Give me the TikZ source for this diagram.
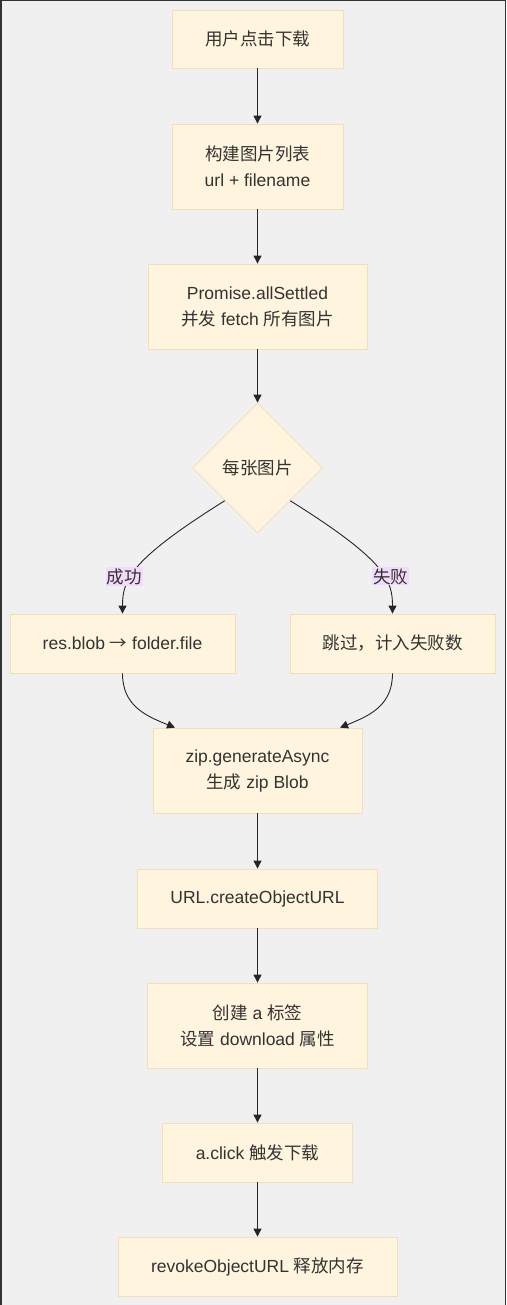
\documentclass[tikz,border=0pt]{standalone}
\usepackage{fontspec}
\setmainfont{Liberation Sans}
\newfontfamily\cjk{Noto Sans CJK SC}
\usetikzlibrary{shapes.geometric,arrows.meta,calc}

\definecolor{bgcol}{HTML}{F0F0F0}
\definecolor{boxfill}{HTML}{FFF4DD}
\definecolor{boxline}{HTML}{F3DFB5}
\definecolor{txtcol}{HTML}{333333}
\definecolor{lblfill}{HTML}{F1DAFA}

\begin{document}
\begin{tikzpicture}[x=1pt, y=-1pt, >={Triangle[length=8pt,width=8pt]},
    box/.style={draw=boxline, fill=boxfill, line width=0.8pt, text=txtcol,
        align=center, inner sep=0pt, font=\fontsize{17.5}{26}\selectfont},
    choice/.style={box, diamond, aspect=1, minimum width=130pt, minimum height=130pt},
    lbl/.style={fill=lblfill, text=txtcol, inner sep=1pt,
        font=\fontsize{17.5}{20}\selectfont\cjk},
    arr/.style={->, draw=black!85, line width=0.9pt}]
    \useasboundingbox (0,0) rectangle (506,1305);
    \fill[bgcol] (0,0) rectangle (506,1305);
    \draw[line width=1.5pt, black!80] (0.75,1305) -- (0.75,0.75) -- (505.25,0.75) -- (505.25,1305);

    \node[box, minimum width=171pt, minimum height=58pt] (click) at (257.5,39) {\cjk 用户点击下载};
    \node[box, minimum width=171pt, minimum height=85pt] (list) at (257.5,166.5) {{\cjk 构建图片列表}\\url + filename};
    \node[box, minimum width=219pt, minimum height=85pt] (fetch) at (257.5,306.5) {Promise.allSettled\\{\cjk 并发} fetch {\cjk 所有图片}};
    \node[choice] (dia) at (257.5,468) {\cjk 每张图片};
    \node[box, minimum width=225pt, minimum height=59pt] (ok) at (122.5,643.5) {res.blob {\cjk →} folder.file};
    \node[box, minimum width=205pt, minimum height=59pt] (skip) at (392.5,643.5) {\cjk 跳过，计入失败数};
    \node[box, minimum width=209pt, minimum height=85pt] (zip) at (257.5,770.5) {zip.generateAsync\\{\cjk 生成} zip Blob};
    \node[box, minimum width=240pt, minimum height=59pt] (url) at (257.5,898.5) {URL.createObjectURL};
    \node[box, minimum width=220pt, minimum height=85pt] (tag) at (257.5,1025.5) {{\cjk 创建} a {\cjk 标签}\\{\cjk 设置} download {\cjk 属性}};
    \node[box, minimum width=190pt, minimum height=59pt] (fire) at (257.5,1152.5) {a.click {\cjk 触发下载}};
    \node[box, minimum width=279pt, minimum height=59pt] (free) at (257.5,1266.5) {revokeObjectURL {\cjk 释放内存}};

    \foreach \a/\b in {click/list, list/fetch, fetch/dia, zip/url, url/tag, tag/fire, fire/free}
        \draw[arr] (\a) -- (\b);

    \draw[arr] (dia.south west) .. controls (130,560) and (122.5,580) .. node[lbl, pos=0.6, xshift=-7pt] {成功} (ok.north);
    \draw[arr] (dia.south east) .. controls (385,560) and (392.5,580) .. node[lbl, pos=0.6, xshift=7pt] {失败} (skip.north);

    \draw[arr] (ok.south) .. controls +(0,32) and +(-30,-12) .. ($(zip.north)+(-82.5,0)$);
    \draw[arr] (skip.south) .. controls +(0,32) and +(30,-12) .. ($(zip.north)+(82.5,0)$);
\end{tikzpicture}
\end{document}
